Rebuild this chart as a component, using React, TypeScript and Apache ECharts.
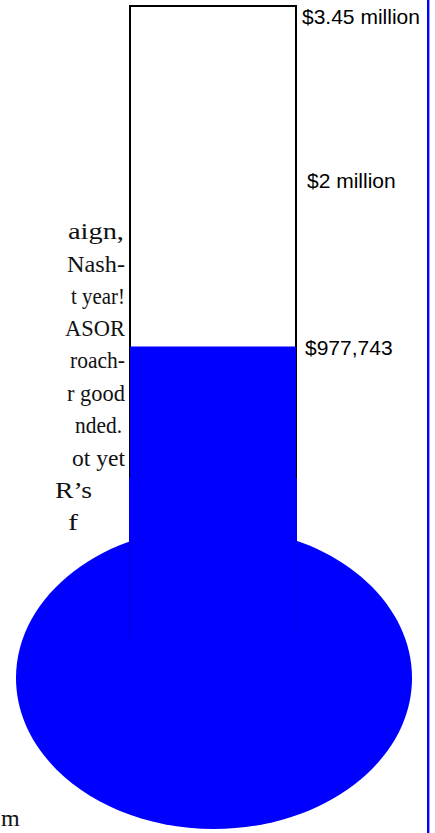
import React, { useEffect, useRef } from "react";
import * as echarts from "echarts";

// ---- data ----
const categories = ["Campaign"];
const raised = [977743];
const goal = 3450000;
const goalLabel = "$3.45 million";
const midLabel = "$2 million";
const raisedLabel = "$977,743";

// paragraph fragments visible to the left of the thermometer
const paragraphLines = ["aign,", "Nash-", "t year!", "ASOR", "roach-", "r good", "nded.", "ot yet", "R\u2019s", "f"];
const paragraphLeft = [68, 67, 71, 65, 70, 67, 75, 72, 55, 68];
const paragraphRight = [124, 125, 125, 125, 125, 125, 122, 125, 92, 78];
const paragraphTail = "m";

export default function App() {
  const ref = useRef<HTMLDivElement>(null);

  useEffect(() => {
    document.body.style.margin = "0";
    const el = ref.current!;
    const chart = echarts.init(el, null, { renderer: "svg" });

    const serifFamily = "Liberation Serif";
    const serifSize = 24;
    const sansFamily = "Liberation Sans";
    const sansSize = 21;
    const canvas = document.createElement("canvas");
    const ctx = canvas.getContext("2d")!;
    ctx.font = `${serifSize}px "${serifFamily}"`;

    const serifCentral = 0.3375 * serifSize; // baseline -> central offset
    const sansCentral = 0.3465 * sansSize;

    const serifStyle = (t: string) => ({
      text: t,
      fontFamily: serifFamily,
      fontSize: serifSize,
      fill: "#111111",
      textAlign: "left",
      textVerticalAlign: "middle",
    });
    const sansStyle = (t: string) => ({
      text: t,
      fontFamily: sansFamily,
      fontSize: sansSize,
      fill: "#000",
      textAlign: "left",
      textVerticalAlign: "middle",
    });

    const paraGraphics: any[] = paragraphLines.map((t, i) => {
      const baseline = 239 + i * 32.4;
      const w = ctx.measureText(t).width || 1;
      const target = paragraphRight[i] - paragraphLeft[i];
      const s = Math.max(0.8, Math.min(1.3, target / w));
      return {
        type: "text",
        x: paragraphRight[i] - w * s,
        y: baseline - serifCentral,
        scaleX: s,
        z: 1,
        style: serifStyle(t),
      };
    });
    paraGraphics.push({
      type: "text",
      x: 1,
      y: 826 - serifCentral,
      z: 1,
      style: serifStyle(paragraphTail),
    });

    const option: any = {
      animation: false,
      grid: { left: 130, width: 166, top: 6, height: 475 },
      xAxis: { type: "category", data: categories, show: false },
      yAxis: { type: "value", min: 0, max: goal, show: false },
      series: [
        {
          type: "bar",
          data: raised,
          barWidth: "100%",
          z: 3,
          itemStyle: { color: "#0000ff", borderColor: "#0000ff", borderWidth: 2 },
          showBackground: true,
          backgroundStyle: { color: "#ffffff", borderColor: "#000000", borderWidth: 2 },
          label: {
            show: true,
            position: ["100%", 0],
            offset: [9, 1],
            formatter: () => raisedLabel,
            color: "#000",
            fontFamily: sansFamily,
            fontSize: sansSize,
            verticalAlign: "middle",
            align: "left",
          },
        },
      ],
      graphic: [
        ...paraGraphics,
        {
          type: "rect",
          z: 10,
          shape: { x: 129, y: 478, width: 168, height: 90 },
          style: { fill: "#0000ff" },
        },
        {
          type: "ellipse",
          z: 10,
          shape: { cx: 214, cy: 678, rx: 198, ry: 151 },
          style: { fill: "#0000ff" },
        },
        {
          type: "line",
          z: 11,
          shape: { x1: 129.5, y1: 482, x2: 129.5, y2: 638 },
          style: { stroke: "#0000a8", lineWidth: 0.5 },
        },
        {
          type: "line",
          z: 11,
          shape: { x1: 296.5, y1: 482, x2: 296.5, y2: 638 },
          style: { stroke: "#0000c8", lineWidth: 0.4 },
        },
        {
          type: "rect",
          z: 10,
          shape: { x: 427, y: 0, width: 2, height: 833 },
          style: { fill: "#0000ff" },
        },
        {
          type: "rect",
          z: 10,
          shape: { x: 429, y: 0, width: 1, height: 833 },
          style: { fill: "#9a9aff" },
        },
        {
          type: "text",
          x: 302,
          y: 23.5 - sansCentral,
          z: 10,
          style: sansStyle(goalLabel),
        },
        {
          type: "text",
          x: 307,
          y: 188 - sansCentral,
          z: 10,
          style: sansStyle(midLabel),
        },
      ],
    };

    chart.setOption(option);
    return () => chart.dispose();
  }, []);

  return (
    <div
      ref={ref}
      style={{ position: "fixed", left: 0, top: 0, width: 435, height: 833, background: "#fff" }}
    />
  );
}
